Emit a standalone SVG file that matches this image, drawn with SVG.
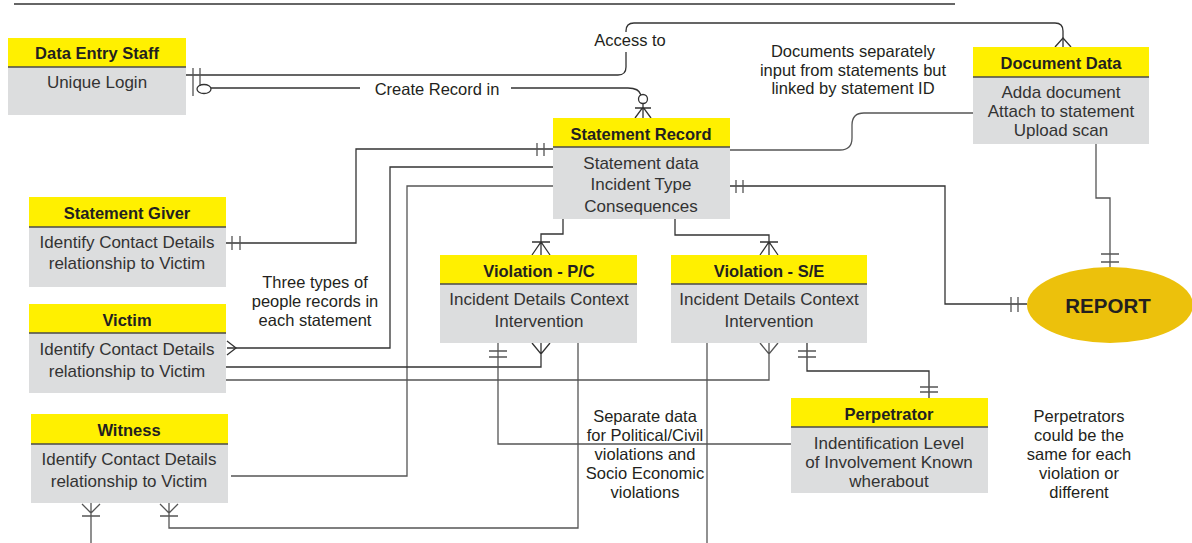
<svg xmlns="http://www.w3.org/2000/svg" width="1192" height="543" viewBox="0 0 1192 543">
  <style>
    .hdr { fill: #fff000; }
    .body { fill: #dcddde; }
    .div { stroke: #4a4a4a; stroke-width: 1.6; }
    .ttl { font-family: "Liberation Sans", Arial, sans-serif; font-weight: bold; font-size: 16.5px; fill: #231f20; text-anchor: middle; }
    .txt { font-family: "Liberation Sans", Arial, sans-serif; font-size: 17px; fill: #333; text-anchor: middle; }
    .note { font-family: "Liberation Sans", Arial, sans-serif; font-size: 16.5px; fill: #231f20; text-anchor: middle; }
    .ln { fill: none; stroke: #333; stroke-width: 1.3; }
    .lg { fill: none; stroke: #555; stroke-width: 1.3; }
  </style>

  <!-- page rule -->
  <path class="ln" d="M14,4 H955"/>

  <g id="connectors">
    <!-- Data Entry Staff -> Document Data: "Access to" -->
    <path class="ln" d="M186,75 H618 Q626,75 626,67 V52 M626,32 V31 Q626,23 634,23 H1055 Q1063,23 1063,31 V47"/>
    <path class="ln" d="M1055,47 L1063,38 L1071,47"/>
    <path class="lg" d="M193,68 V96 M200,68 V86"/>
    <!-- Data Entry Staff -> Statement Record: "Create Record in" -->
    <ellipse class="ln" cx="204" cy="89" rx="7" ry="4.5"/>
    <path class="ln" d="M211,88 H360 M511,88 H628 Q639,88 641,95"/>
    <circle class="ln" cx="643" cy="99" r="4.5"/>
    <path class="ln" d="M643,103.5 V118 M635,118 L643,107 L651,118 M635,108 H651"/>
    <!-- Statement Giver -> Statement Record -->
    <path class="ln" d="M226,243 H356 V149 H553"/>
    <path class="lg" d="M232,236 V250 M240,236 V250 M537,143 V156 M544,143 V156"/>
    <!-- Victim -> Statement Record -->
    <path class="ln" d="M553,167 H390 V348 H227"/>
    <path class="ln" d="M227,341 L236,348 L227,355"/>
    <!-- Witness -> Statement Record -->
    <path class="lg" d="M553,186 H407 V476 H231"/>
    <!-- Statement Record -> Document Data -->
    <path class="lg" d="M730,150 H840 Q852,150 852,138 V125 Q852,113 864,113 H973"/>
    <!-- Statement Record -> REPORT -->
    <path class="ln" d="M730,186 H945 V304 H1027"/>
    <path class="lg" d="M736,180 V193 M743,180 V193 M1011,297 V312 M1018,297 V312"/>
    <!-- Document Data -> REPORT -->
    <path class="lg" d="M1096,144 V198 H1110 V267"/>
    <path class="lg" d="M1101,254 H1119 M1101,262 H1119"/>
    <!-- Statement Record -> Violation P/C -->
    <path class="ln" d="M563,219 V234 H541 V255 M532,255 L541,242 L550,255 M532,242 H550"/>
    <!-- Statement Record -> Violation S/E -->
    <path class="ln" d="M675,219 V235 H769 V255 M760,255 L769,242 L778,255 M760,242 H778"/>
    <!-- Victim -> Violation P/C -->
    <path class="ln" d="M226,367 H541 V343 M532,343 L541,354 L550,343"/>
    <!-- Victim -> Violation S/E -->
    <path class="lg" d="M226,380 H769 V343 M760,343 L769,354 L778,343"/>
    <!-- Violation P/C -> Perpetrator -->
    <path class="lg" d="M498,343 V444 H791 M489,351 H507 M489,357 H507"/>
    <!-- Violation P/C -> Witness -->
    <path class="lg" d="M578,343 V528 H169 V503 M160,504 L169,513 L178,504 M160,516 H178"/>
    <!-- Violation S/E downward -->
    <path class="lg" d="M707,343 V543"/>
    <!-- Witness downward -->
    <path class="lg" d="M91,503 V543 M82,504 L91,513 L100,504 M82,516 H100"/>
    <!-- Violation S/E -> Perpetrator -->
    <path class="ln" d="M807,343 V371 H929 V398"/>
    <path class="lg" d="M798,351 H816 M798,357 H816 M920,387 H938 M920,392 H938"/>
  </g>

  <g id="data-entry-staff">
    <rect class="body" x="8" y="67" width="178" height="48"/>
    <rect class="hdr" x="8" y="38" width="178" height="29"/>
    <path class="div" d="M8,67 H186"/>
    <text class="ttl" x="97" y="59">Data Entry Staff</text>
    <text class="txt" x="97" y="88">Unique Login</text>
  </g>

  <g id="document-data">
    <rect class="body" x="973" y="77" width="176" height="67"/>
    <rect class="hdr" x="973" y="47" width="176" height="30"/>
    <path class="div" d="M973,77 H1149"/>
    <text class="ttl" x="1061" y="69">Document Data</text>
    <text class="txt" x="1061" y="98">Adda document</text>
    <text class="txt" x="1061" y="117">Attach to statement</text>
    <text class="txt" x="1061" y="136">Upload scan</text>
  </g>

  <g id="statement-record">
    <rect class="body" x="553" y="147" width="177" height="72"/>
    <rect class="hdr" x="553" y="118" width="177" height="29"/>
    <path class="div" d="M553,147 H730"/>
    <text class="ttl" x="641" y="140">Statement Record</text>
    <text class="txt" x="641" y="169">Statement data</text>
    <text class="txt" x="641" y="190">Incident Type</text>
    <text class="txt" x="641" y="212">Consequences</text>
  </g>

  <g id="statement-giver">
    <rect class="body" x="29" y="227" width="197" height="60"/>
    <rect class="hdr" x="29" y="197" width="197" height="30"/>
    <path class="div" d="M29,227 H226"/>
    <text class="ttl" x="127" y="219">Statement Giver</text>
    <text class="txt" x="127" y="248">Identify Contact Details</text>
    <text class="txt" x="127" y="269">relationship to Victim</text>
  </g>

  <g id="victim">
    <rect class="body" x="29" y="333" width="197" height="60"/>
    <rect class="hdr" x="29" y="304" width="197" height="29"/>
    <path class="div" d="M29,333 H226"/>
    <text class="ttl" x="127" y="326">Victim</text>
    <text class="txt" x="127" y="355">Identify Contact Details</text>
    <text class="txt" x="127" y="377">relationship to Victim</text>
  </g>

  <g id="witness">
    <rect class="body" x="31" y="444" width="197" height="59"/>
    <rect class="hdr" x="31" y="414" width="197" height="30"/>
    <path class="div" d="M31,444 H228"/>
    <text class="ttl" x="129" y="436">Witness</text>
    <text class="txt" x="129" y="465">Identify Contact Details</text>
    <text class="txt" x="129" y="487">relationship to Victim</text>
  </g>

  <g id="violation-pc">
    <rect class="body" x="440" y="284" width="197" height="59"/>
    <rect class="hdr" x="440" y="255" width="197" height="29"/>
    <path class="div" d="M440,284 H637"/>
    <text class="ttl" x="539" y="277">Violation - P/C</text>
    <text class="txt" x="539" y="305">Incident Details Context</text>
    <text class="txt" x="539" y="327">Intervention</text>
  </g>

  <g id="violation-se">
    <rect class="body" x="671" y="284" width="196" height="59"/>
    <rect class="hdr" x="671" y="255" width="196" height="29"/>
    <path class="div" d="M671,284 H867"/>
    <text class="ttl" x="769" y="277">Violation - S/E</text>
    <text class="txt" x="769" y="305">Incident Details Context</text>
    <text class="txt" x="769" y="327">Intervention</text>
  </g>

  <g id="perpetrator">
    <rect class="body" x="791" y="427" width="197" height="66"/>
    <rect class="hdr" x="791" y="398" width="197" height="29"/>
    <path class="div" d="M791,427 H988"/>
    <text class="ttl" x="889" y="420">Perpetrator</text>
    <text class="txt" x="889" y="449">Indentification Level</text>
    <text class="txt" x="889" y="468">of Involvement Known</text>
    <text class="txt" x="889" y="487">wherabout</text>
  </g>

  <g id="report">
    <ellipse cx="1110" cy="305" rx="83" ry="38" fill="#ecc10c"/>
    <text x="1108" y="313" font-family="'Liberation Sans', Arial, sans-serif" font-weight="bold" font-size="20.5" fill="#231f20" text-anchor="middle">REPORT</text>
  </g>

  <g id="labels">
    <text class="note" x="630" y="46">Access to</text>
    <text class="note" x="437" y="95">Create Record in</text>
    <text class="note" x="853" y="57">Documents separately</text>
    <text class="note" x="853" y="76">input from statements but</text>
    <text class="note" x="853" y="94">linked by statement ID</text>
    <text class="note" x="315" y="288">Three types of</text>
    <text class="note" x="315" y="307">people records in</text>
    <text class="note" x="315" y="326">each statement</text>
    <text class="note" x="645" y="422">Separate data</text>
    <text class="note" x="645" y="441">for Political/Civil</text>
    <text class="note" x="645" y="460">violations and</text>
    <text class="note" x="645" y="479">Socio Economic</text>
    <text class="note" x="645" y="498">violations</text>
    <text class="note" x="1079" y="422">Perpetrators</text>
    <text class="note" x="1079" y="441">could be the</text>
    <text class="note" x="1079" y="460">same for each</text>
    <text class="note" x="1079" y="479">violation or</text>
    <text class="note" x="1079" y="498">different</text>
  </g>
</svg>
